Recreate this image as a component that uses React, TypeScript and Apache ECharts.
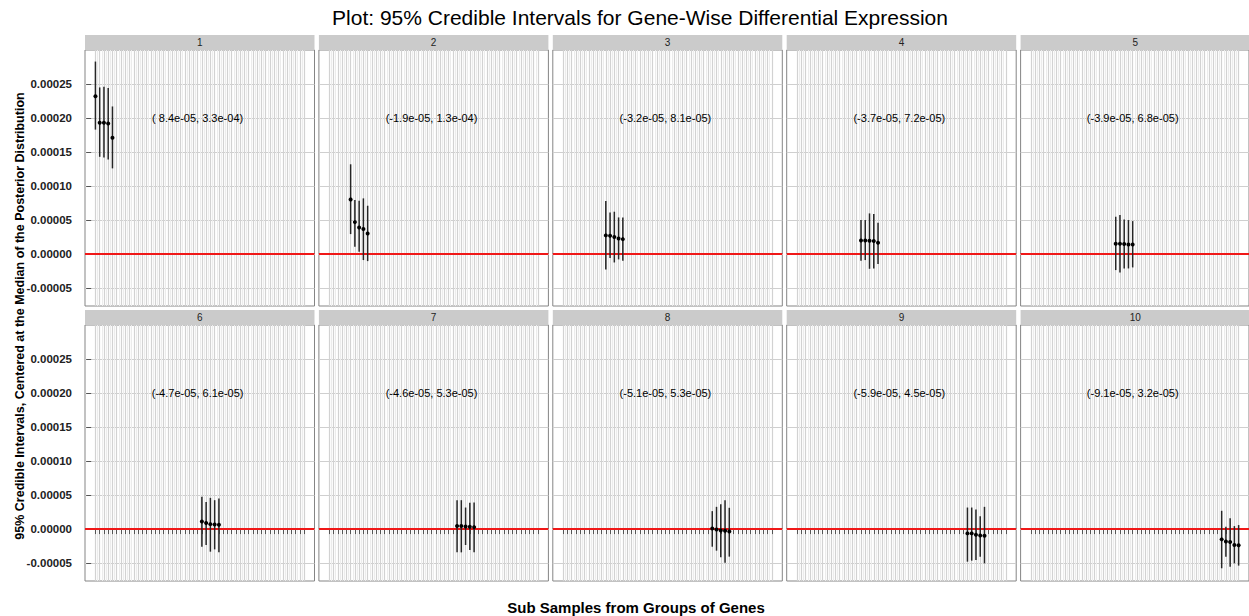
import React, { useEffect, useRef } from "react";
import * as echarts from "echarts";

// ---------- data ----------
const groups = ["1", "2", "3", "4", "5", "6", "7", "8", "9", "10"];

const positions: number[][] = [
  [1, 2, 3, 4, 5],
  [6, 7, 8, 9, 10],
  [11, 12, 13, 14, 15],
  [16, 17, 18, 19, 20],
  [21, 22, 23, 24, 25],
  [26, 27, 28, 29, 30],
  [31, 32, 33, 34, 35],
  [36, 37, 38, 39, 40],
  [41, 42, 43, 44, 45],
  [46, 47, 48, 49, 50],
];

const medians: number[][] = [
  [0.000232, 0.000193, 0.000193, 0.000192, 0.000171],
  [0.0000804, 0.000047, 0.0000392, 0.0000368, 0.0000304],
  [0.0000275, 0.000027, 0.000025, 0.000023, 0.000022],
  [0.0000201, 0.0000201, 0.0000196, 0.0000191, 0.0000167],
  [0.0000152, 0.0000152, 0.0000147, 0.0000142, 0.0000142],
  [0.0000112, 0.0000088, 0.0000073, 0.0000068, 0.0000063],
  [0.0000044, 0.0000044, 0.0000039, 0.0000034, 0.0000029],
  [0.000001, -0.0000005, -0.000002, -0.0000024, -0.0000034],
  [-0.0000063, -0.0000063, -0.0000083, -0.0000093, -0.0000098],
  [-0.0000151, -0.0000181, -0.000019, -0.0000234, -0.0000239],
];

const uppers: number[][] = [
  [0.000283, 0.000245, 0.000246, 0.000244, 0.000217],
  [0.000132, 0.0000794, 0.0000784, 0.0000819, 0.0000711],
  [0.000078, 0.0000613, 0.0000623, 0.0000539, 0.0000539],
  [0.00005, 0.00005, 0.0000598, 0.0000588, 0.0000461],
  [0.0000549, 0.0000574, 0.000051, 0.00005, 0.0000485],
  [0.0000474, 0.00004, 0.0000459, 0.0000425, 0.0000449],
  [0.0000425, 0.0000425, 0.0000317, 0.0000386, 0.0000391],
  [0.0000264, 0.0000327, 0.0000366, 0.0000425, 0.0000313],
  [0.0000317, 0.0000317, 0.0000288, 0.000019, 0.0000327],
  [0.0000269, 0.0000034, 0.0000161, 0.0000044, 0.0000059],
];

const lowers: number[][] = [
  [0.000183, 0.000143, 0.000142, 0.000139, 0.000126],
  [0.0000294, 0.0000108, 0.0000034, -0.0000088, -0.0000103],
  [-0.0000225, -0.0000059, -0.0000123, -0.0000078, -0.0000098],
  [-0.0000098, -0.0000088, -0.0000216, -0.0000211, -0.0000147],
  [-0.0000235, -0.000027, -0.0000211, -0.0000211, -0.0000196],
  [-0.0000259, -0.0000234, -0.0000332, -0.0000298, -0.0000342],
  [-0.0000342, -0.0000342, -0.0000234, -0.0000308, -0.0000342],
  [-0.0000259, -0.0000317, -0.0000415, -0.0000493, -0.0000405],
  [-0.0000479, -0.0000464, -0.0000454, -0.0000405, -0.0000503],
  [-0.0000576, -0.0000405, -0.0000552, -0.0000503, -0.0000537],
];

const intervalLabels = [
  "( 8.4e-05, 3.3e-04)",
  "(-1.9e-05, 1.3e-04)",
  "(-3.2e-05, 8.1e-05)",
  "(-3.7e-05, 7.2e-05)",
  "(-3.9e-05, 6.8e-05)",
  "(-4.7e-05, 6.1e-05)",
  "(-4.6e-05, 5.3e-05)",
  "(-5.1e-05, 5.3e-05)",
  "(-5.9e-05, 4.5e-05)",
  "(-9.1e-05, 3.2e-05)",
];
const labelX = 25;
const labelY = 0.0002;

const yTicks = [-0.00005, 0, 0.00005, 0.0001, 0.00015, 0.0002, 0.00025];
const yMinorTicks = [-0.000025, 0.000025, 0.000075, 0.000125, 0.000175, 0.000225, 0.000275];
const referenceY = 0;

const xMin = -1.45;
const xMax = 52.45;
const yMin = -0.0000763;
const yMax = 0.0003;

const xBreaks: number[] = [];
const xMinorBreaks: number[] = [];
for (let i = 1; i <= 50; i++) {
  xBreaks.push(i);
  if (i < 50) xMinorBreaks.push(i + 0.5);
}

const title = "Plot: 95% Credible Intervals for Gene-Wise Differential Expression";
const yTitle = "95% Credible Intervals, Centered at the Median of the Posterior Distribution";
const xTitle = "Sub Samples from Groups of Genes";

// ---------- layout ----------
const PANEL_LEFT0 = 85;
const PANEL_STEP = 233.9;
const PANEL_W = 229.5;
const ROW_TOP = [50, 325];
const PANEL_H = 256;
const STRIP_H = 15;
const FONT = "'Liberation Sans', Arial, Helvetica, sans-serif";

export default function App() {
  const ref = useRef<HTMLDivElement>(null);

  useEffect(() => {
    if (!ref.current) return;
    const chart = echarts.init(ref.current, null, { renderer: "svg" });

    const grids: any[] = [];
    const xAxes: any[] = [];
    const yAxes: any[] = [];
    const series: any[] = [];
    const graphics: any[] = [];

    groups.forEach((g, i) => {
      const col = i % 5;
      const row = Math.floor(i / 5);
      const left = PANEL_LEFT0 + col * PANEL_STEP;
      const top = ROW_TOP[row];
      grids.push({
        left,
        top,
        width: PANEL_W,
        height: PANEL_H,
        show: true,
        backgroundColor: "#ffffff",
        borderColor: "#858585",
        borderWidth: 1,
        containLabel: false,
      });
      xAxes.push({
        gridIndex: i,
        type: "value",
        min: xMin,
        max: xMax,
        axisLine: { show: false },
        axisTick: {
          show: row === 1,
          customValues: xBreaks,
          length: 5,
          lineStyle: { color: "#555", width: 1 },
        },
        axisLabel: { show: false },
        splitLine: { show: true, lineStyle: { color: "#d2d2d2", width: 1.2 } },
      });
      yAxes.push({
        gridIndex: i,
        type: "value",
        min: yMin,
        max: yMax,
        axisLine: { show: false },
        axisTick: {
          show: col === 0,
          customValues: yTicks,
          length: 5,
          lineStyle: { color: "#555", width: 1 },
        },
        axisLabel: {
          show: col === 0,
          customValues: yTicks,
          margin: 13,
          fontFamily: FONT,
          fontSize: 11.5,
          fontWeight: "bold",
          color: "#222222",
          formatter: (v: number) => v.toFixed(5),
        },
        splitLine: { show: true, lineStyle: { color: "#cfcfcf", width: 1 } },
      });

      // minor grid lines
      series.push({
        type: "line",
        xAxisIndex: i,
        yAxisIndex: i,
        data: [],
        silent: true,
        z: 1,
        markLine: {
          silent: true,
          z: 1,
          symbol: ["none", "none"],
          label: { show: false },
          lineStyle: { color: "#ececec", width: 1, type: "solid" },
          data: [
            ...xMinorBreaks.map((x) => ({ xAxis: x })),
            ...yMinorTicks.map((y) => ({ yAxis: y })),
          ],
        },
      });
      // red reference line at zero
      series.push({
        type: "line",
        xAxisIndex: i,
        yAxisIndex: i,
        data: [],
        silent: true,
        z: 2,
        markLine: {
          silent: true,
          z: 2,
          symbol: ["none", "none"],
          label: { show: false },
          lineStyle: { color: "#f01818", width: 2.2, type: "solid" },
          data: [{ yAxis: referenceY }],
        },
      });
      // error bars
      series.push({
        type: "custom",
        xAxisIndex: i,
        yAxisIndex: i,
        z: 6,
        encode: { x: 0, y: [1, 2, 3] },
        data: positions[i].map((x, k) => [x, lowers[i][k], medians[i][k], uppers[i][k]]),
        renderItem: (params: any, api: any) => {
          const x = api.value(0);
          const pLo = api.coord([x, api.value(1)]);
          const pMed = api.coord([x, api.value(2)]);
          const pHi = api.coord([x, api.value(3)]);
          return {
            type: "group",
            children: [
              {
                type: "line",
                shape: { x1: pLo[0], y1: pLo[1], x2: pHi[0], y2: pHi[1] },
                style: { stroke: "#262626", lineWidth: 1.5 },
              },
              {
                type: "circle",
                shape: { cx: pMed[0], cy: pMed[1], r: 2 },
                style: { fill: "#000000" },
              },
            ],
          };
        },
      });
      // interval annotation
      series.push({
        type: "custom",
        xAxisIndex: i,
        yAxisIndex: i,
        z: 7,
        data: [[labelX, labelY]],
        renderItem: (params: any, api: any) => {
          const p = api.coord([api.value(0), api.value(1)]);
          return {
            type: "text",
            x: p[0],
            y: p[1],
            style: {
              text: intervalLabels[i],
              textAlign: "center",
              textVerticalAlign: "middle",
              font: `11px ${FONT}`,
              fill: "#000000",
            },
          };
        },
      });

      // strip
      graphics.push({
        type: "rect",
        shape: { x: left, y: top - STRIP_H, width: PANEL_W, height: STRIP_H },
        style: { fill: "#cbcbcb" },
        z: 10,
      });
      graphics.push({
        type: "text",
        x: left + PANEL_W / 2,
        y: top - STRIP_H / 2,
        style: {
          text: g,
          textAlign: "center",
          textVerticalAlign: "middle",
          font: `10px ${FONT}`,
          fill: "#222222",
        },
        z: 11,
      });
    });

    graphics.push({
      type: "text",
      x: 640,
      y: 17,
      style: {
        text: title,
        textAlign: "center",
        textVerticalAlign: "middle",
        font: `21px ${FONT}`,
        fill: "#000000",
      },
    });
    graphics.push({
      type: "text",
      x: 20,
      y: 316,
      rotation: Math.PI / 2,
      style: {
        text: yTitle,
        textAlign: "center",
        textVerticalAlign: "middle",
        font: `bold 12.5px ${FONT}`,
        fill: "#000000",
      },
    });
    graphics.push({
      type: "text",
      x: 636,
      y: 607,
      style: {
        text: xTitle,
        textAlign: "center",
        textVerticalAlign: "middle",
        font: `bold 15px ${FONT}`,
        fill: "#000000",
      },
    });

    chart.setOption({
      animation: false,
      backgroundColor: "#ffffff",
      grid: grids,
      xAxis: xAxes,
      yAxis: yAxes,
      series,
      graphic: graphics,
    });

    return () => chart.dispose();
  }, []);

  return (
    <div
      ref={ref}
      style={{ position: "fixed", left: 0, top: 0, width: 1249, height: 616 }}
    />
  );
}
